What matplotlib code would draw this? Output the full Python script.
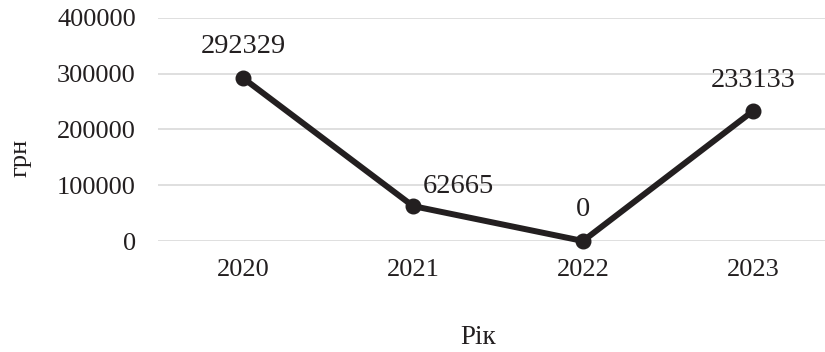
import matplotlib.pyplot as plt

years = ['2020', '2021', '2022', '2023']
amounts = [292329, 62665, 0, 233133]
# label offsets (pixels) for each point, value sits above the marker
label_offsets = [(0, 32), (45, 20), (0, 31), (0, 31)]

plt.rcParams['font.family'] = ['Liberation Serif', 'DejaVu Serif']

fig = plt.figure(figsize=(8.25, 3.52), dpi=100)
ax = fig.add_axes([158 / 825, 111 / 352, 680 / 825, 223 / 352])

x = range(len(years))
ax.plot(x, amounts, color='#231f20', linewidth=4.3, marker='o',
        markersize=10.5, solid_capstyle='round', zorder=3, clip_on=False)

for i, v in enumerate(amounts):
    ax.annotate(str(v), (i, v), xytext=label_offsets[i], textcoords='offset pixels',
                ha='center', va='center', fontsize=20.5, color='#231f20')

ax.set_xlim(-0.5, 3.5)
ax.set_ylim(0, 400000)
ax.set_yticks(range(0, 400001, 100000))
ax.set_xticks(list(x))
ax.set_xticklabels(years)
ax.grid(axis='y', color='#d9d9d9', linewidth=1.2)
ax.set_axisbelow(True)
for s in ax.spines.values():
    s.set_visible(False)
ax.tick_params(length=0, labelsize=19, labelcolor='#231f20')
ax.tick_params(axis='y', pad=16)
ax.tick_params(axis='x', pad=13)

fig.text(20 / 825, 1 - 158 / 352, 'грн', rotation=90, ha='center', va='center',
         fontsize=19, color='#231f20')
fig.text(478 / 825, 1 - 338 / 352, 'Рік', ha='center', va='center',
         fontsize=19.5, color='#231f20')

fig.savefig('out.png', dpi=100)
